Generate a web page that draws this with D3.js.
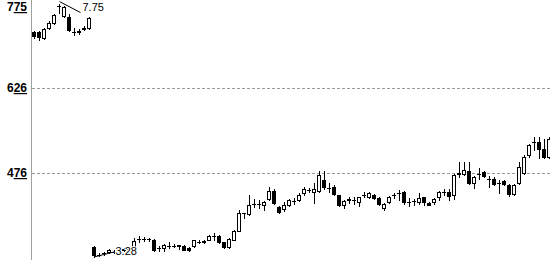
<!DOCTYPE html>
<html><head><meta charset="utf-8">
<script src="https://cdn.jsdelivr.net/npm/d3@7"></script>
<style>html,body{margin:0;padding:0;background:#fff;overflow:hidden}</style>
</head><body><svg id="c" width="550" height="260"></svg>
<script>
// OHLC per session (price x100)
const openV  = [724,725,715,732,741,770,753,751,725,725,731,732,
  346,331,334,336,337,339,341,342,335,359,360,359,357,343,343,348,347,348,348,344,347,355,355,358,364,365,354,346,358,374,405,404,422,421,419,431,445,416,413,420,427,428,441,446,442,444,463,450,452,437,419,428,429,425,438,434,437,432,414,425,437,440,443,425,426,424,433,423,424,433,443,443,437,475,475,480,459,474,477,465,465,459,462,455,439,458,476,508,530,530,518,505];
const highV  = [726,727,732,744,757,775,771,756,732,730,735,751,
  347,334,337,342,340,342,344,346,361,365,363,362,360,348,350,354,350,349,349,345,358,358,358,366,370,367,355,361,376,411,406,437,430,428,427,451,447,418,425,430,432,440,451,450,458,479,479,458,455,438,428,433,433,434,443,442,439,433,423,436,441,446,444,432,430,440,434,424,432,445,447,447,475,495,495,495,471,484,479,470,469,464,463,457,457,496,508,528,539,540,536,540];
const lowV   = [715,711,713,730,739,758,751,726,720,721,729,730,
  328,329,331,334,334,336,338,339,333,354,356,356,338,338,338,343,345,342,340,338,346,352,353,357,357,353,343,344,357,373,396,402,416,414,411,429,421,405,409,418,421,426,438,442,423,442,447,443,437,417,414,423,422,418,433,432,430,419,410,423,432,428,422,418,420,422,420,419,422,429,437,428,431,469,473,456,449,465,469,452,454,440,454,435,437,456,474,505,516,502,502,503];
const closeV = [717,716,730,741,755,771,769,728,725,726,732,749,
  331,332,335,340,337,340,342,343,356,360,359,360,340,343,349,348,347,349,341,340,357,355,356,364,364,354,346,359,374,406,406,420,422,421,425,444,423,407,419,428,427,438,448,446,447,472,452,450,439,419,426,431,429,433,438,440,432,421,421,433,437,440,424,424,427,432,425,420,431,443,443,435,472,476,481,458,469,474,471,465,457,459,456,439,455,486,504,525,530,518,504,536];
const tickValues = [775, 626, 476];
const gridValues = [626, 476];

const W = 550, H = 260;
const svg = d3.select('#c');
const idx = d3.range(openV.length);
const x = d3.scaleBand().domain(idx).range([31.2, 551.2]).padding(0);
const y = d3.scaleLinear().domain([476, 626]).range([173, 88]);
const cx = i => Math.round(x(i) + x.bandwidth() / 2);
const FONT = "'Liberation Sans', Arial, sans-serif";

// grid
svg.append('g').selectAll('line').data(gridValues).join('line')
  .attr('x1', 32).attr('x2', W)
  .attr('y1', d => Math.round(y(d)) + 0.5).attr('y2', d => Math.round(y(d)) + 0.5)
  .attr('stroke', '#999').attr('stroke-dasharray', '3,2').attr('stroke-width', 1);

// axis line
svg.append('line').attr('x1', 31.5).attr('x2', 31.5).attr('y1', 0).attr('y2', H)
  .attr('stroke', '#a0a0a0').attr('stroke-width', 1);

// tick labels
const tl = svg.append('g').selectAll('text').data(tickValues).join('text')
  .attr('x', 27).attr('text-anchor', 'end')
  .attr('y', d => Math.max(11, Math.round(y(d)) + 4))
  .attr('font-family', FONT).attr('font-size', 12).attr('font-weight', 'bold')
  .attr('fill', '#000');
tl.append('tspan').text(d => String(d).slice(0, 1));
tl.append('tspan').attr('text-decoration', 'underline').style('text-decoration', 'underline')
  .text(d => String(d).slice(1));

// candles
const g = svg.append('g');
idx.forEach(i => {
  const o = openV[i], c = closeV[i], h = highV[i], l = lowV[i];
  const px = cx(i);
  g.append('line').attr('x1', px + 0.5).attr('x2', px + 0.5)
    .attr('y1', Math.round(y(h))).attr('y2', Math.round(y(l)) + 1)
    .attr('stroke', '#000').attr('stroke-width', 1);
  const yt = Math.round(y(Math.max(o, c))), yb = Math.round(y(Math.min(o, c)));
  if (yb - yt < 1) {
    g.append('line').attr('x1', px - 2).attr('x2', px + 2)
      .attr('y1', yt + 0.5).attr('y2', yt + 0.5)
      .attr('stroke', '#000').attr('stroke-width', 1);
  } else {
    g.append('rect').attr('x', px - 1.5).attr('y', yt + 0.5)
      .attr('width', 3).attr('height', yb - yt)
      .attr('fill', c >= o ? '#fff' : '#000')
      .attr('stroke', '#000').attr('stroke-width', 1);
  }
});

// max / min annotations
const iMax = d3.maxIndex(highV), iMin = d3.minIndex(lowV);
const mx = cx(iMax) + 0.5, my = y(highV[iMax]);
svg.append('line').attr('x1', mx).attr('y1', my - 2).attr('x2', mx + 21).attr('y2', my + 9)
  .attr('stroke', '#000').attr('stroke-width', 1);
svg.append('text').attr('x', mx + 23).attr('y', my + 7)
  .attr('font-family', FONT).attr('font-size', 11).attr('fill', '#000')
  .text((highV[iMax] / 100).toFixed(2));
const nx = cx(iMin) + 0.5, ny = y(lowV[iMin]);
svg.append('line').attr('x1', nx).attr('y1', ny).attr('x2', nx + 20).attr('y2', ny - 5)
  .attr('stroke', '#000').attr('stroke-width', 1);
svg.append('text').attr('x', nx + 21).attr('y', ny - 2)
  .attr('font-family', FONT).attr('font-size', 11).attr('fill', '#000')
  .attr('stroke', '#fff').attr('stroke-width', 2).attr('paint-order', 'stroke')
  .text((lowV[iMin] / 100).toFixed(2));
</script></body></html>
